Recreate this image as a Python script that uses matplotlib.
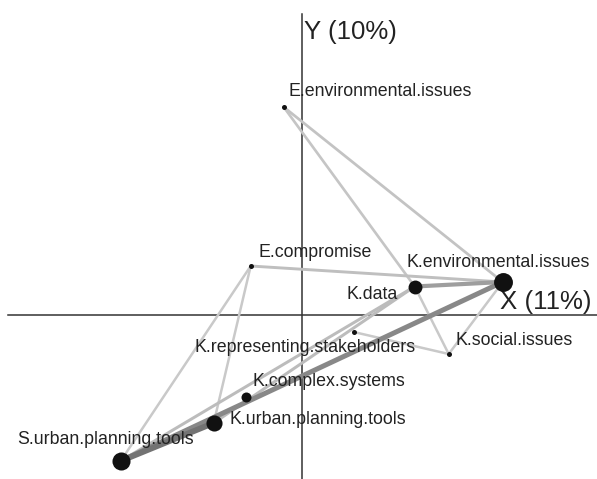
import numpy as np
import matplotlib.pyplot as plt

plt.rcParams['font.family'] = ['Liberation Sans', 'DejaVu Sans']

# node coordinates on the two first axes
names = ["E.environmental.issues", "E.compromise", "K.environmental.issues", "K.data",
         "K.social.issues", "K.representing.stakeholders", "K.complex.systems",
         "K.urban.planning.tools", "S.urban.planning.tools"]
x_vals = np.array([-0.18, -0.51, 2.01, 1.13, 1.47, 0.52, -0.56, -0.88, -1.81])
y_vals = np.array([2.08, 0.49, 0.33, 0.285, -0.39, -0.17, -0.82, -1.08, -1.46])
node_weight = np.array([0, 0, 5, 3.2, 0, 0, 1.8, 4, 4.7])

# edges (index pairs) and their weight
edges = [(0, 2), (0, 3), (1, 2), (1, 8), (1, 7), (3, 2), (3, 4), (2, 4),
         (5, 4), (3, 8), (7, 3), (2, 8), (7, 8)]
edge_weight = [1.3, 1.2, 1.5, 1.0, 1.0, 3.0, 1.0, 1.0, 1.0, 1.6, 1.6, 4.0, 5.0]

x_label = "X (11%)"
y_label = "Y (10%)"

# label placement (offset in points, alignment)
label_off = [(3.6, 10.8, "left"), (5.8, 10, "left"), (-2.9, 13.7, "center"),
             (-12.2, -5.8, "right"), (5, 10, "left"), (-35, -10.8, "center"),
             (5, 10.8, "left"), (11.5, 2.2, "left"), (-10.8, 15.8, "center")]

fig = plt.figure(figsize=(5.97, 4.79), dpi=100)
ax = fig.add_axes([0, 0, 1, 1])
ax.set_xlim(-3.017, 2.953)
ax.set_ylim(-1.64, 3.15)
ax.axis("off")

# axes through the origin
ax.plot([-2.94, 2.953], [0, 0], color="#333333", lw=1.1, zorder=1)
ax.plot([0, 0], [-1.64, 3.01], color="#333333", lw=1.1, zorder=1)


def edge_style(w):
    # heavier links are darker and thicker
    g = 0.79 - 0.085 * (w - 1)
    return (g, g, g), 1.8 + 0.6 * (w - 1)


order = np.argsort(edge_weight)
for k in order:
    i, j = edges[k]
    col, lw = edge_style(edge_weight[k])
    ax.plot([x_vals[i], x_vals[j]], [y_vals[i], y_vals[j]], color=col, lw=lw,
            solid_capstyle="round", zorder=2 + edge_weight[k] * 0.1)

for i in range(len(names)):
    ax.plot(x_vals[i], y_vals[i], "o", color="#111111", ms=3.6 + 2 * node_weight[i],
            mec="none", zorder=5)
    dx, dy, ha = label_off[i]
    ax.annotate(names[i], (x_vals[i], y_vals[i]), xytext=(dx, dy), textcoords="offset points",
                ha=ha, va="center", fontsize=12.8, color="#222222", zorder=6)

ax.text(0.02, 2.83, y_label, ha="left", va="center", fontsize=18.6, color="#222222")
ax.text(1.98, 0.13, x_label, ha="left", va="center", fontsize=18.6, color="#222222")

plt.savefig("out.png", dpi=100)
